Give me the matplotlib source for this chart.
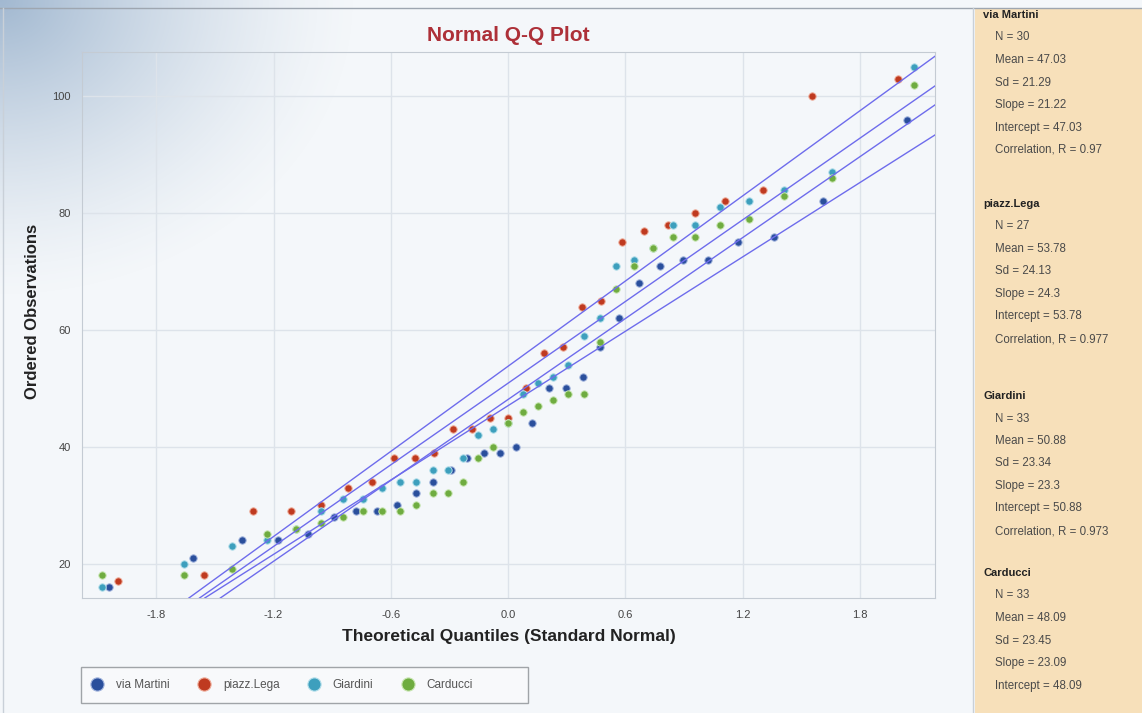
import numpy as np
import matplotlib.pyplot as plt
from matplotlib.patches import Rectangle
from matplotlib.lines import Line2D
from statistics import NormalDist

# sorted observations
names = ["via Martini", "piazz.Lega", "Giardini", "Carducci"]
via_martini = [16, 21, 24, 24, 25, 28, 29, 29, 30, 32, 34, 36, 38, 39, 39,
               40, 44, 50, 50, 52, 57, 62, 68, 71, 72, 72, 75, 76, 82, 96]
piazz_lega = [17, 18, 29, 29, 30, 33, 34, 38, 38, 39, 43, 43, 45, 45,
              50, 56, 57, 64, 65, 75, 77, 78, 80, 82, 84, 100, 103]
giardini = [16, 20, 23, 24, 26, 29, 31, 31, 33, 34, 34, 36, 36, 38, 42, 43, 44,
            49, 51, 52, 54, 59, 62, 71, 72, 74, 78, 78, 81, 82, 84, 87, 105]
carducci = [18, 18, 19, 25, 26, 27, 28, 29, 29, 29, 30, 32, 32, 34, 38, 40, 44,
            46, 47, 48, 49, 49, 58, 67, 71, 74, 76, 76, 78, 79, 83, 86, 102]

# summary shown in the side panel
n_text = ["30", "27", "33", "33"]
mean_text = ["47.03", "53.78", "50.88", "48.09"]
sd_text = ["21.29", "24.13", "23.34", "23.45"]
slope_text = ["21.22", "24.3", "23.3", "23.09"]
intercept_text = ["47.03", "53.78", "50.88", "48.09"]
corr_text = ["0.97", "0.977", "0.973", None]  # last one is cut off

colors = ["#2a4f9c", "#bf3a20", "#3d9fbd", "#6fac40"]
edge_colors = ["#9fb2dc", "#eeab98", "#b0dde9", "#c8e6b2"]
line_color = "#6e6cec"

x_ticks = [-1.8, -1.2, -0.6, 0.0, 0.6, 1.2, 1.8]
y_ticks = [20, 40, 60, 80, 100]


def blom_quantiles(n):
    # theoretical normal quantiles, (i - 3/8) / (n + 1/4)
    nd = NormalDist()
    return np.array([nd.inv_cdf((i - 0.375) / (n + 0.25)) for i in range(1, n + 1)])


W, H = 1142, 713
fig = plt.figure(figsize=(W / 100, H / 100), dpi=100, facecolor="#f4f7fa")
plt.rcParams["font.family"] = ["Liberation Sans", "DejaVu Sans"]

# background: corner gradient, side panel, frame lines
bg = fig.add_axes([0, 0, 1, 1], zorder=-10)
bg.set_axis_off()
yy, xx = np.mgrid[0:H, 0:W]
d = np.sqrt((xx / 360.0) ** 2 + (yy / 300.0) ** 2)
img = np.zeros((H, W, 4))
img[..., 0], img[..., 1], img[..., 2] = 0.58, 0.68, 0.79
img[..., 3] = np.clip(1 - d, 0, 1) ** 1.4 * 0.85
bg.imshow(img, extent=[0, W, H, 0], aspect="auto", interpolation="bilinear")
bg.add_patch(Rectangle((975, 9), W - 975, H - 9, facecolor="#f7e0ba", edgecolor="none"))
bg.plot([0, W], [8, 8], color="#9ea6b0", lw=1)
bg.plot([3, 3], [8, H], color="#c9d0d8", lw=1)
bg.plot([973, 973], [8, H], color="#c9d0d8", lw=1)
bg.set_xlim(0, W)
bg.set_ylim(H, 0)

# main plot
ax = fig.add_axes([82 / W, 1 - 598 / H, (935 - 82) / W, (598 - 52) / H])
ax.set_facecolor("none")

series = [via_martini, piazz_lega, giardini, carducci]
for vals, c, ec in zip(series, colors, edge_colors):
    q = blom_quantiles(len(vals))
    ax.scatter(q, vals, s=28, color=c, edgecolors=ec, linewidths=0.7, zorder=3)

for m, s in zip(intercept_text, slope_text):
    ax.axline((0, float(m)), slope=float(s), color=line_color, lw=1.0, zorder=4)

ax.set_xlim(-2.18, 2.185)
ax.set_ylim(14.1, 107.6)
ax.set_xticks(x_ticks)
ax.set_xticklabels([f"{t:.1f}" for t in x_ticks])
ax.set_yticks(y_ticks)
ax.grid(color="#dde3ea", lw=1)
ax.set_axisbelow(True)
ax.tick_params(length=0, labelsize=8, colors="#444444")
ax.tick_params(axis="x", pad=9)
ax.tick_params(axis="y", pad=8)
for sp in ax.spines.values():
    sp.set_color("#c4cbd3")

ax.set_title("Normal Q-Q Plot", fontsize=15, fontweight="bold", color="#ad3038", pad=8)
ax.set_xlabel("Theoretical Quantiles (Standard Normal)", fontsize=12.5,
              fontweight="bold", color="#222222")
ax.xaxis.set_label_coords(0.5, -0.056)
ax.set_ylabel("Ordered Observations", fontsize=12, fontweight="bold", color="#222222")
ax.yaxis.set_label_coords(-0.049, 0.524)

# legend at the bottom
bg.add_patch(Rectangle((81, 667), 447, 36, facecolor="#f8f9fb", edgecolor="#a0a4a8", lw=1))
handles = [Line2D([], [], ls="none", marker="o", markersize=9.5, color=c,
                  markeredgecolor=ec, markeredgewidth=0.8)
           for c, ec in zip(colors, edge_colors)]
ax.legend(handles, names, loc="center left", bbox_to_anchor=(75 / W, 1 - 685 / H),
          bbox_transform=fig.transFigure, ncol=4, frameon=False, fontsize=8.5,
          handletextpad=0.6, columnspacing=1.9, labelcolor="#555555")

# statistics panel on the right
header_y = [15, 204, 396, 573]
step = 22.5
for k in range(4):
    y0 = header_y[k]
    fig.text(983 / W, 1 - y0 / H, names[k], fontsize=8, fontweight="bold",
             color="#222222", va="center")
    rows = [f"N = {n_text[k]}", f"Mean = {mean_text[k]}", f"Sd = {sd_text[k]}",
            f"Slope = {slope_text[k]}", f"Intercept = {intercept_text[k]}"]
    if corr_text[k] is not None:
        rows.append(f"Correlation, R = {corr_text[k]}")
    for j, r in enumerate(rows):
        fig.text(995 / W, 1 - (y0 + step * (j + 1)) / H, r, fontsize=8.3,
                 color="#4a4a4a", va="center")

fig.savefig("out.png", dpi=100, facecolor=fig.get_facecolor())
